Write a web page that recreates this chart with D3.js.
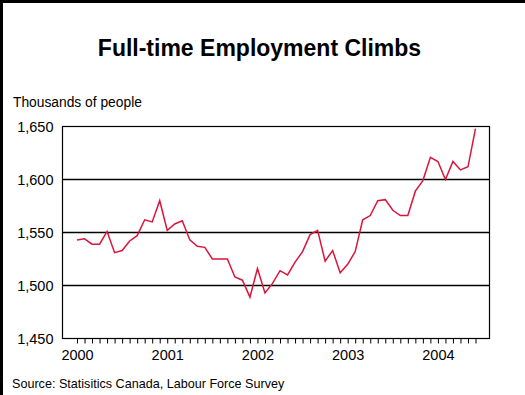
<!DOCTYPE html>
<html>
<head>
<meta charset="utf-8">
<script src="https://cdn.jsdelivr.net/npm/d3@7"></script>
<style>
  html, body { margin: 0; padding: 0; background: #fff; }
  svg { display: block; font-family: "Liberation Sans", Arial, sans-serif; }
</style>
</head>
<body>
<svg id="chart" width="525" height="395"></svg>
<script>
// monthly full-time employment, Jan 2000 .. Jun 2004 (thousands)
const employment = [
  1543, 1544, 1539, 1539, 1551, 1531, 1533, 1542, 1547, 1562, 1560, 1580,
  1552, 1558, 1561, 1543, 1537, 1536, 1525, 1525, 1525, 1508, 1505, 1489,
  1516, 1493, 1502, 1514, 1510, 1522, 1532, 1548, 1552, 1523, 1533, 1512,
  1520, 1532, 1562, 1566, 1580, 1581, 1571, 1566, 1566, 1589, 1599, 1621,
  1617, 1600, 1617, 1609, 1612, 1648
];
const years = ['2000', '2001', '2002', '2003', '2004'];
const yTicks = [1450, 1500, 1550, 1600, 1650];
const gridValues = [1500, 1550, 1600];

const svg = d3.select('#chart');
const box = { left: 62.5, right: 489.5, top: 126.5, bottom: 338.5 };

// frame on the left and top
svg.append('rect').attr('x', 0).attr('y', 0).attr('width', 3).attr('height', 395).attr('fill', '#000');
svg.append('rect').attr('x', 0).attr('y', 0).attr('width', 525).attr('height', 3).attr('fill', '#000');

svg.append('text')
  .attr('x', 259.5).attr('y', 56)
  .attr('text-anchor', 'middle')
  .style('font-size', '23px').style('font-weight', 'bold')
  .text('Full-time Employment Climbs');

svg.append('text')
  .attr('x', 13).attr('y', 107)
  .style('font-size', '13.8px')
  .text('Thousands of people');

const x = d3.scaleLinear().domain([0, employment.length - 1]).range([77, 475.5]);
const y = d3.scaleLinear().domain([1450, 1650]).range([box.bottom, box.top]);

// gridlines
svg.append('g')
  .selectAll('line')
  .data(gridValues)
  .enter()
  .append('line')
  .attr('x1', box.left).attr('x2', box.right)
  .attr('y1', d => y(d)).attr('y2', d => y(d))
  .attr('stroke', '#000').attr('stroke-width', 1.4);

// plot frame
svg.append('rect')
  .attr('x', box.left).attr('y', box.top)
  .attr('width', box.right - box.left).attr('height', box.bottom - box.top)
  .attr('fill', 'none').attr('stroke', '#000').attr('stroke-width', 1.2);

// y axis labels
const yAxis = svg.append('g')
  .attr('transform', `translate(${box.left},0)`)
  .call(d3.axisLeft(y).tickValues(yTicks).tickSize(0).tickPadding(9).tickFormat(d3.format(',')));
yAxis.select('.domain').remove();
yAxis.selectAll('text').style('font-size', '14.5px').attr('fill', '#000');

// x axis: monthly ticks, year labels on January
const xAxis = svg.append('g')
  .attr('transform', `translate(0,${box.bottom})`)
  .call(d3.axisBottom(x).tickValues(d3.range(employment.length)).tickSize(5)
    .tickFormat(i => i % 12 === 0 ? years[i / 12] : ''));
xAxis.select('.domain').remove();
xAxis.selectAll('.tick line').attr('stroke', '#000').attr('stroke-width', 1);
xAxis.selectAll('text').style('font-size', '14.5px').attr('fill', '#000').attr('dy', '0.95em');

// series line
svg.append('path')
  .datum(employment)
  .attr('fill', 'none')
  .attr('stroke', '#dc143c')
  .attr('stroke-width', 1.5)
  .attr('d', d3.line().x((d, i) => x(i)).y(d => y(d)));

svg.append('text')
  .attr('x', 12).attr('y', 388)
  .style('font-size', '12.6px')
  .text('Source: Statisitics Canada, Labour Force Survey');
</script>
</body>
</html>
